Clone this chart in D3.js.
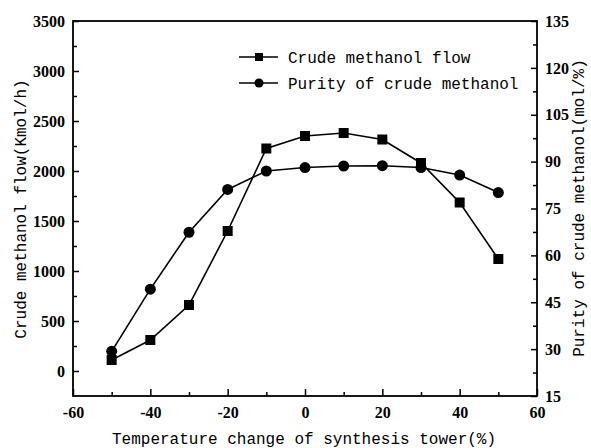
<!DOCTYPE html>
<html>
<head>
<meta charset="utf-8">
<script src="https://cdn.jsdelivr.net/npm/d3@7"></script>
<style>
  body { margin: 0; background: #fff; }
  .ttl { font-family: "Liberation Mono", monospace; font-size: 16px; }
</style>
</head>
<body>
<div id="chart"></div>
<script>
var temps = [-50, -40, -30, -20, -10, 0, 10, 20, 30, 40, 50];
var flow = [110, 310, 660, 1400, 2225, 2350, 2380, 2315, 2080, 1685, 1120];
var purity = [29.3, 49.2, 67.4, 81.1, 87, 88.1, 88.6, 88.7, 88.1, 85.7, 80.1];
var xTicks = [-60, -40, -20, 0, 20, 40, 60];
var leftTicks = [0, 500, 1000, 1500, 2000, 2500, 3000, 3500];
var rightTicks = [15, 30, 45, 60, 75, 90, 105, 120, 135];

var margin = {top: 21, left: 73, right: 54, bottom: 52},
    W = 591, H = 448,
    width = W - margin.left - margin.right,
    height = H - margin.top - margin.bottom;

var svg = d3.select("#chart").append("svg")
    .attr("width", W)
    .attr("height", H);
var g = svg.append("g")
    .attr("transform", "translate(" + margin.left + "," + margin.top + ")");

var x = d3.scaleLinear().domain([-60, 60]).range([0, width]);
var yL = d3.scaleLinear().domain([-250, 3500]).range([height, 0]);
var yR = d3.scaleLinear().domain([15, 135]).range([height, 0]);

// minor ticks
function minor(axis, vals) {
  return axis.tickValues(vals).tickSize(-4).tickFormat("");
}
g.append("g").attr("transform", "translate(0," + height + ")")
  .call(minor(d3.axisBottom(x), d3.range(-50, 60, 20)));
g.append("g")
  .call(minor(d3.axisLeft(yL), d3.range(250, 3500, 500)));
g.append("g").attr("transform", "translate(" + width + ",0)")
  .call(minor(d3.axisRight(yR), d3.range(22.5, 135, 15)));

// major axes (plain hyphen for negatives, like the original)
var fmt = function(d) { return String(d); };
var xAxis = g.append("g").attr("transform", "translate(0," + height + ")")
  .call(d3.axisBottom(x).tickValues(xTicks).tickSize(-7).tickPadding(11).tickFormat(fmt));
var lAxis = g.append("g")
  .call(d3.axisLeft(yL).tickValues(leftTicks).tickSize(-6).tickPadding(8).tickFormat(fmt));
var rAxis = g.append("g").attr("transform", "translate(" + width + ",0)")
  .call(d3.axisRight(yR).tickValues(rightTicks).tickSize(-6).tickPadding(8).tickFormat(fmt));

[xAxis, lAxis, rAxis].forEach(function(a) {
  a.attr("font-family", "'Liberation Serif', serif")
   .attr("font-size", 16)
   .attr("font-weight", "bold");
});

g.selectAll(".domain").remove();
g.selectAll(".tick line").attr("stroke", "#000").attr("stroke-width", 1.5);
g.selectAll(".tick text").attr("fill", "#000");

g.append("rect")
  .attr("width", width).attr("height", height)
  .attr("fill", "none").attr("stroke", "#000").attr("stroke-width", 1.8);

// lines
var lineL = d3.line().x(function(d, i) { return x(temps[i]); }).y(function(d) { return yL(d); });
var lineR = d3.line().x(function(d, i) { return x(temps[i]); }).y(function(d) { return yR(d); });

g.append("path").datum(flow).attr("d", lineL)
  .attr("fill", "none").attr("stroke", "#000").attr("stroke-width", 1.6);
g.append("path").datum(purity).attr("d", lineR)
  .attr("fill", "none").attr("stroke", "#000").attr("stroke-width", 1.6);

g.selectAll(".sq").data(flow).enter().append("rect")
  .attr("class", "sq")
  .attr("x", function(d, i) { return x(temps[i]) - 5; })
  .attr("y", function(d) { return yL(d) - 5; })
  .attr("width", 10).attr("height", 10)
  .attr("fill", "#000");

g.selectAll(".dot").data(purity).enter().append("circle")
  .attr("class", "dot")
  .attr("cx", function(d, i) { return x(temps[i]); })
  .attr("cy", function(d) { return yR(d); })
  .attr("r", 5.5)
  .attr("fill", "#000");

// legend
var legend = svg.append("g");
var items = ["Crude methanol flow", "Purity of crude methanol"];
items.forEach(function(name, i) {
  var ly = 57 + i * 26;
  legend.append("line")
    .attr("x1", 239).attr("x2", 278).attr("y1", ly).attr("y2", ly)
    .attr("stroke", "#000").attr("stroke-width", 1.6);
  if (i == 0) {
    legend.append("rect").attr("x", 255).attr("y", ly - 4)
      .attr("width", 8).attr("height", 8).attr("fill", "#000");
  } else {
    legend.append("circle").attr("cx", 259).attr("cy", ly).attr("r", 4.5).attr("fill", "#000");
  }
  legend.append("text").attr("class", "ttl")
    .attr("x", 288).attr("y", ly + 6)
    .text(name);
});

// axis titles
svg.append("text").attr("class", "ttl")
  .attr("x", 304).attr("y", 444)
  .attr("text-anchor", "middle")
  .text("Temperature change of synthesis tower(%)");
svg.append("text").attr("class", "ttl")
  .attr("transform", "translate(26,209) rotate(-90)")
  .attr("text-anchor", "middle")
  .text("Crude methanol flow(Kmol/h)");
svg.append("text").attr("class", "ttl")
  .attr("transform", "translate(584,208) rotate(-90)")
  .attr("text-anchor", "middle")
  .text("Purity of crude methanol(mol/%)");
</script>
</body>
</html>
